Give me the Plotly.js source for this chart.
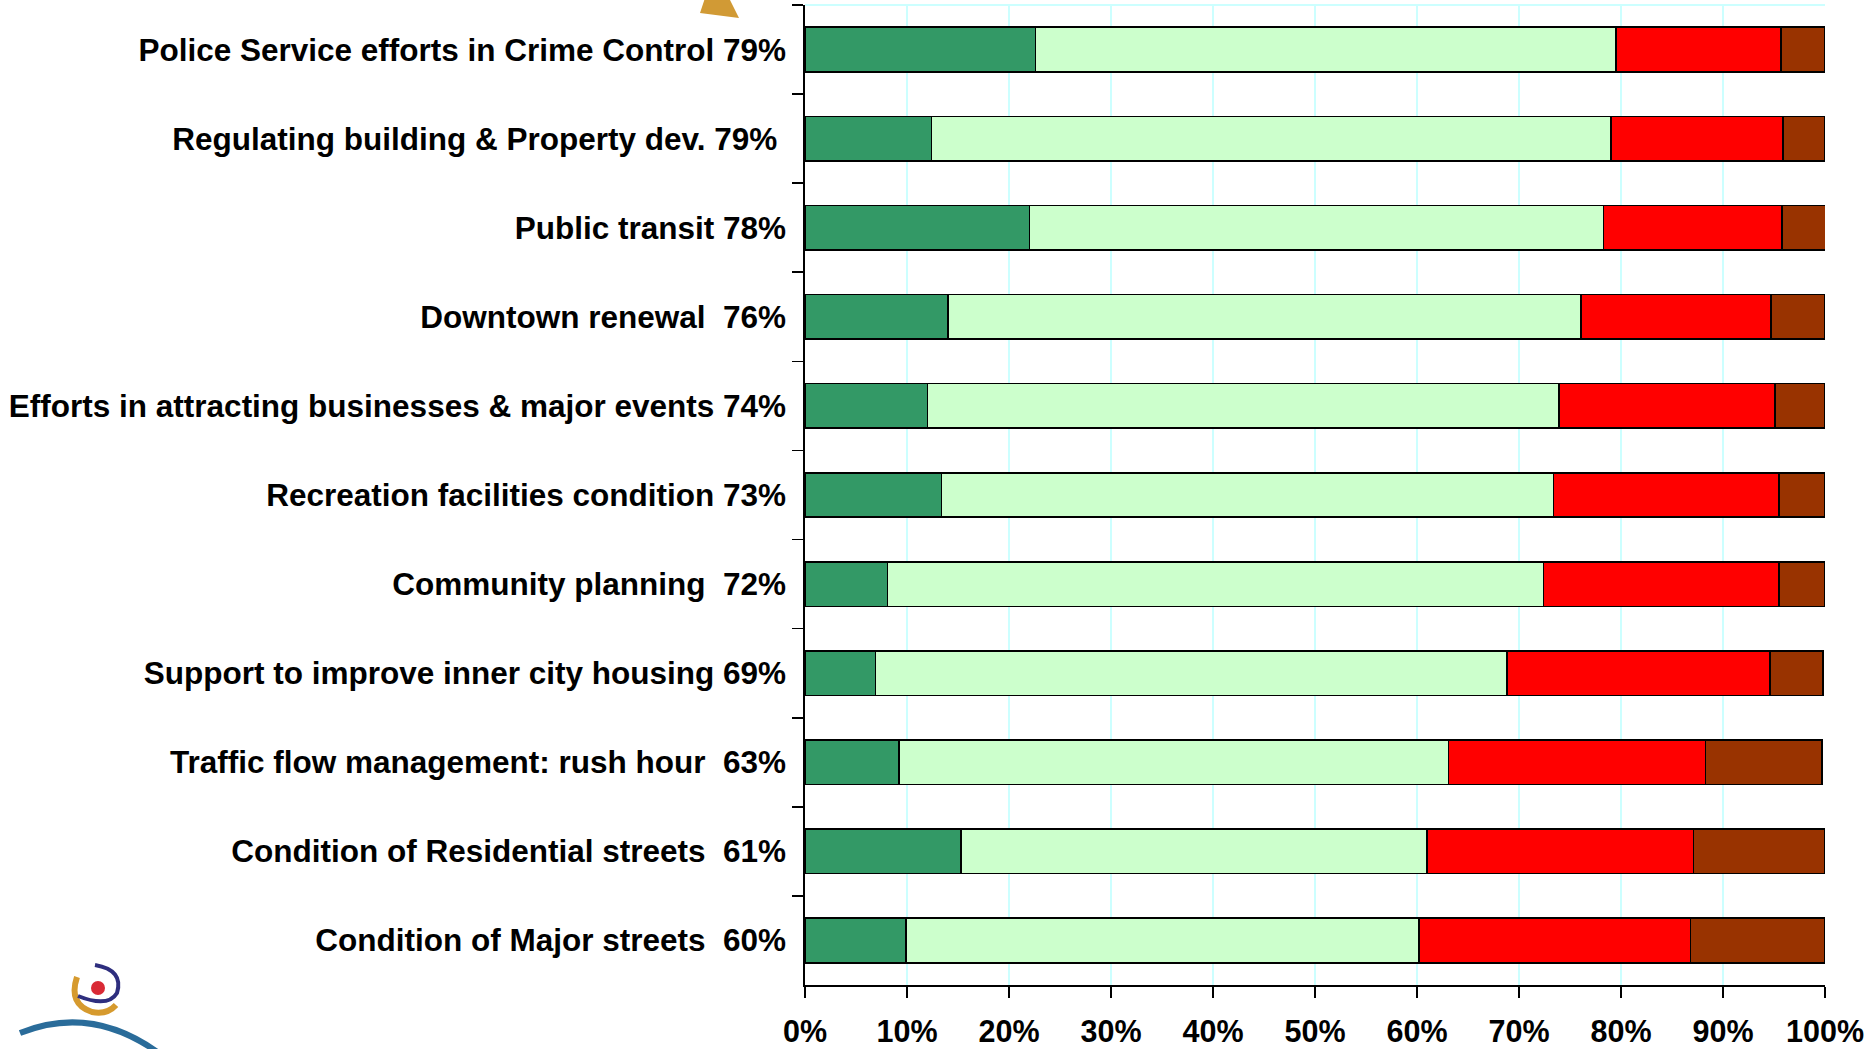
<!DOCTYPE html>
<html>
<head>
<meta charset="utf-8">
<script src="https://cdn.plot.ly/plotly-3.0.1.min.js"></script>
<style>html,body{margin:0;padding:0;background:#fff;}#chart{width:1876px;height:1049px;}</style>
</head>
<body>
<div id="chart"></div>
<script>
var categories = [
  "Police Service efforts in Crime Control 79%",
  "Regulating building & Property dev. 79%\u00a0",
  "Public transit 78%",
  "Downtown renewal \u00a076%",
  "Efforts in attracting businesses & major events 74%",
  "Recreation facilities condition 73%",
  "Community planning \u00a072%",
  "Support to improve inner city housing 69%",
  "Traffic flow management: rush hour \u00a063%",
  "Condition of Residential streets \u00a061%",
  "Condition of Major streets \u00a060%"
];
var verySatisfied = [22.6, 12.4, 22.0, 14.0, 12.0, 13.4, 8.1, 6.9, 9.2, 15.3, 9.9];
var satisfied     = [56.9, 66.6, 56.3, 62.1, 61.9, 60.0, 64.3, 61.9, 53.9, 45.7, 50.3];
var dissatisfied  = [16.2, 16.9, 17.5, 18.6, 21.2, 22.1, 23.1, 25.8, 25.2, 26.1, 26.6];
var veryDissatisfied = [4.3, 4.1, 4.4, 5.3, 4.9, 4.5, 4.5, 5.2, 11.4, 12.9, 13.2];
var xTickVals = [0, 10, 20, 30, 40, 50, 60, 70, 80, 90, 100];
var xTickText = ["0%", "10%", "20%", "30%", "40%", "50%", "60%", "70%", "80%", "90%", "100%"];

var W = 1876, H = 1049;
var M = {l: 805, r: 51, t: 5, b: 64};
var PW = W - M.l - M.r, PH = H - M.t - M.b;
function px(x) { return (x - M.l) / PW; }
function py(y) { return (H - M.b - y) / PH; }
function P(x, y) { return px(x).toFixed(5) + "," + py(y).toFixed(5); }

function seg(vals, color, name) {
  return {
    type: "bar", orientation: "h", name: name,
    x: vals, y: categories,
    width: 0.5,
    marker: {color: color, line: {color: "#000000", width: 1.6}},
    hoverinfo: "skip", showlegend: false
  };
}

var data = [
  seg(verySatisfied, "#339966", "Very satisfied"),
  seg(satisfied, "#CCFFCC", "Satisfied"),
  seg(dissatisfied, "#FF0000", "Dissatisfied"),
  seg(veryDissatisfied, "#993300", "Very dissatisfied")
];

var font = {family: "Liberation Sans, Arial, sans-serif", color: "#000000", weight: 700};

var shapes = [
  // top cyan border
  {type: "line", xref: "paper", yref: "paper", x0: 0, x1: 1, y0: 1, y1: 1,
   line: {color: "#CCFFFF", width: 2}, layer: "below"},
  // gold arrow (partially cut at top)
  {type: "path", xref: "paper", yref: "paper",
   path: "M" + P(705, -2) + " L" + P(700, 13) + " L" + P(739, 18) + " L" + P(729, -2) + " Z",
   fillcolor: "#D19A35", line: {width: 0}},
  // logo: orange swirl
  {type: "path", xref: "paper", yref: "paper",
   path: "M" + P(77, 977) + " Q" + P(68, 1004) + " " + P(92, 1012) + " Q" + P(107, 1015) + " " + P(116, 1005),
   line: {color: "#D69A2E", width: 6}},
  // logo: navy swirl
  {type: "path", xref: "paper", yref: "paper",
   path: "M" + P(95, 965) + " Q" + P(124, 970) + " " + P(117, 993) + " Q" + P(108, 1008) + " " + P(78, 996),
   line: {color: "#2E2E7E", width: 4}},
  // logo: big blue arc
  {type: "path", xref: "paper", yref: "paper",
   path: "M" + P(20, 1033) + " Q" + P(92, 1004) + " " + P(160, 1054),
   line: {color: "#2A6C9A", width: 6}},
  // logo: red dot
  {type: "circle", xref: "paper", yref: "paper",
   x0: px(91), x1: px(105), y0: py(995), y1: py(981),
   fillcolor: "#D92A35", line: {width: 0}}
];

var layout = {
  width: W, height: H,
  margin: {l: M.l, r: M.r, t: M.t, b: M.b, pad: 0},
  paper_bgcolor: "#ffffff", plot_bgcolor: "#ffffff",
  barmode: "stack",
  bargap: 0.5,
  showlegend: false,
  xaxis: {
    range: [0, 100],
    tickvals: xTickVals, ticktext: xTickText,
    showgrid: true, gridcolor: "#CCFFFF", gridwidth: 2,
    zeroline: false,
    showline: true, linecolor: "#000000", linewidth: 1.6,
    ticks: "outside", ticklen: 11, tickwidth: 1.6, tickcolor: "#000000",
    tickfont: Object.assign({size: 30.5}, font),
    ticklabelstandoff: 8,
    fixedrange: true
  },
  yaxis: {
    type: "category",
    categoryorder: "array", categoryarray: categories,
    autorange: "reversed",
    tickson: "boundaries",
    showgrid: false, zeroline: false,
    showline: true, linecolor: "#000000", linewidth: 1.6,
    ticks: "outside", ticklen: 11, tickwidth: 1.6, tickcolor: "#000000",
    tickfont: Object.assign({size: 31.5}, font),
    ticklabelstandoff: 11,
    fixedrange: true
  },
  shapes: shapes
};

Plotly.newPlot("chart", data, layout, {displayModeBar: false, staticPlot: true});
</script>
</body>
</html>
